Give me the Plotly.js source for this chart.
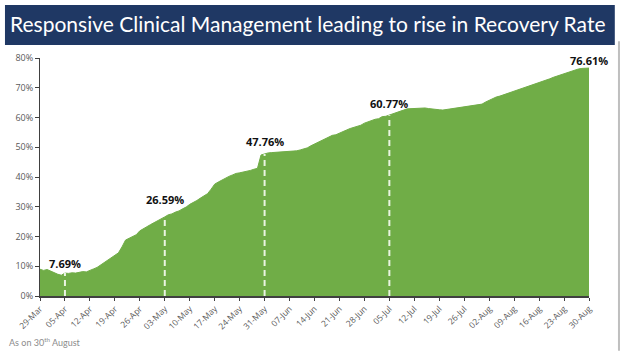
<!DOCTYPE html>
<html>
<head>
<meta charset="utf-8">
<script src="https://cdn.plot.ly/plotly-3.0.1.min.js"></script>
<style>html,body{margin:0;padding:0;background:#fff;}#chart{width:624px;height:358px;}</style>
</head>
<body>
<div id="chart"></div>
<script>
// Recovery rate (%) by day, 29-Mar to 30-Aug
const startDate = '2020-03-29';
const recoveryRate = [
  9.0, 8.6, 8.9, 8.3, 7.8, 7.3, 7.0,
  7.69, 7.6, 7.8, 7.7, 7.9, 8.2, 8.1,
  8.7, 9.1, 9.6, 10.4, 11.2, 12.0, 12.9,
  13.8, 14.5, 16.5, 18.8, 19.4, 20.0, 20.6,
  21.9, 22.5, 23.3, 24.0, 24.6, 25.3, 25.9,
  26.59, 27.3, 27.6, 28.2, 28.6, 29.3, 29.9,
  30.8, 31.4, 32.1, 32.9, 33.7, 34.4, 35.9,
  37.6, 38.3, 39.0, 39.6, 40.2, 40.7, 41.2,
  41.4, 41.6, 41.8, 42.2, 42.6, 42.9, 47.4,
  47.76, 48.1, 48.2, 48.3, 48.2, 48.4, 48.4,
  48.5, 48.6, 48.8, 49.1, 49.4, 49.8, 50.5,
  51.1, 51.6, 52.3, 52.8, 53.5, 54.0, 54.2,
  54.8, 55.4, 55.8, 56.3, 56.6, 57.0, 57.4,
  58.1, 58.6, 59.1, 59.4, 59.6, 60.3, 60.4,
  60.77, 61.2, 61.7, 62.1, 62.5, 62.9, 63.0,
  63.1, 63.2, 63.1, 63.2, 63.0, 62.8, 62.7,
  62.6, 62.5, 62.7, 62.9, 63.0, 63.2, 63.4,
  63.6, 63.9, 64.1, 64.3, 64.4, 64.5, 65.2,
  65.8, 66.3, 66.9, 67.2, 67.6, 68.1, 68.4,
  68.8, 69.3, 69.8, 70.1, 70.4, 70.8, 71.2,
  71.6, 72.0, 72.6, 73.0, 73.5, 73.9, 74.3,
  74.7, 75.1, 75.5, 76.0, 76.3, 76.5, 76.6,
  76.61
];
// Highlighted milestones
const markDates = ['2020-04-05', '2020-05-03', '2020-05-31', '2020-07-05', '2020-08-30'];
const markValues = [7.69, 26.59, 47.76, 60.77, 76.61];
const markLabels = ['7.69%', '26.59%', '47.76%', '60.77%', '76.61%'];
const dashedMarks = [true, true, true, true, false];
const labelOffsets = [3.1, 5.7, 4.3, 4.1, 2.4];
const yTicks = [0, 10, 20, 30, 40, 50, 60, 70, 80];
const yTickLabels = ['0%', '10%', '20%', '30%', '40%', '50%', '60%', '70%', '80%'];
const titleText = 'Responsive Clinical Management leading to rise in Recovery Rate';
const noteText = 'As on 30<sup>th</sup> August';

function addDays(s, n) {
  const d = new Date(s + 'T00:00:00Z');
  d.setUTCDate(d.getUTCDate() + n);
  return d.toISOString().slice(0, 10);
}
const dates = recoveryRate.map((_, i) => addDays(startDate, i));
const tickDates = [];
for (let i = 0; i < dates.length; i += 7) tickDates.push(dates[i]);

const green = '#70AD47';
const shapes = [
  {type: 'rect', xref: 'paper', yref: 'paper', x0: -0.0638, x1: 1.047, y0: 1.0546, y1: 1.2227,
   fillcolor: '#1F3864', line: {width: 0}, layer: 'below'},
  {type: 'line', xref: 'paper', yref: 'paper', x0: 1.0546, x1: 1.0546, y0: 1.07, y1: -0.23,
   line: {color: '#BFBFBF', width: 2}}
];
markDates.forEach((d, i) => {
  if (dashedMarks[i]) shapes.push({type: 'line', xref: 'x', yref: 'y', x0: d, x1: d, y0: 0, y1: markValues[i],
    line: {color: '#EAF4E2', width: 2, dash: '6px,4px'}, layer: 'above'});
});
const annotations = markDates.map((d, i) => ({
  x: d, y: markValues[i] + labelOffsets[i], xref: 'x', yref: 'y', text: '<b>' + markLabels[i] + '</b>',
  showarrow: false, font: {family: 'Open Sans, sans-serif', size: 11, color: '#111'}, xanchor: 'center', yanchor: 'middle'
}));
annotations.push({xref: 'paper', yref: 'paper', x: -0.06, y: -0.193, xanchor: 'left', yanchor: 'middle',
  text: noteText, showarrow: false, font: {family: 'Lato, sans-serif', size: 9, color: '#8C8C8C'}});

const trace = {
  x: dates, y: recoveryRate, type: 'scatter', mode: 'lines', fill: 'tozeroy',
  fillcolor: green, line: {color: green, width: 1}, hoverinfo: 'skip'
};

const layout = {
  width: 624, height: 358,
  margin: {l: 40, r: 35, t: 58, b: 62},
  paper_bgcolor: '#fff', plot_bgcolor: '#fff',
  showlegend: false,
  title: {text: titleText, xref: 'container', yref: 'container', x: 10/624, xanchor: 'left',
    y: 1 - 25/358, yanchor: 'middle', font: {family: 'Lato, sans-serif', size: 21, color: '#fff'}},
  xaxis: {type: 'date', range: [dates[0], dates[dates.length - 1]], tickvals: tickDates, tickformat: '%d-%b',
    tickangle: -45, tickfont: {family: 'Open Sans, sans-serif', size: 8.5, color: '#595959'},
    showgrid: false, zeroline: false, showline: true, linecolor: '#404040', linewidth: 1.5,
    ticks: 'outside', ticklen: 3, tickcolor: '#404040', fixedrange: true},
  yaxis: {range: [0, 80], tickvals: yTicks, ticktext: yTickLabels,
    tickfont: {family: 'Open Sans, sans-serif', size: 9, color: '#595959'},
    showgrid: false, zeroline: false, showline: true, linecolor: '#404040', linewidth: 1,
    ticks: 'outside', ticklen: 4, tickcolor: '#404040', fixedrange: true},
  shapes: shapes, annotations: annotations
};
Plotly.newPlot('chart', [trace], layout, {displayModeBar: false, staticPlot: true});
</script>
</body>
</html>
